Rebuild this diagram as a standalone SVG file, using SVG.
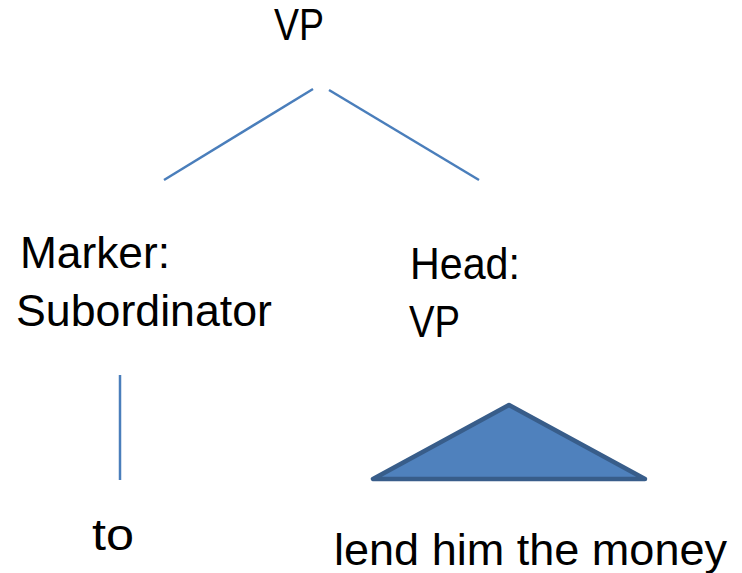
<svg xmlns="http://www.w3.org/2000/svg" width="742" height="573" viewBox="0 0 742 573">
<style>
text{font-family:"Liberation Sans",Arial,sans-serif;font-size:44px;fill:#000}
.ln{stroke:#4a7ebb;stroke-width:2.5;fill:none}
.tri{fill:#4f81bd;stroke:#385d8a;stroke-width:4.5;stroke-linejoin:round}
</style>
<rect width="742" height="573" fill="#fff"/>
<g id="node-vp-top"><text x="274" y="40" textLength="50" lengthAdjust="spacingAndGlyphs">VP</text></g>
<g id="node-marker"><text x="20" y="268" textLength="150" lengthAdjust="spacingAndGlyphs">Marker:</text><text x="16" y="326" textLength="256" lengthAdjust="spacingAndGlyphs">Subordinator</text></g>
<g id="node-head"><text x="410" y="279" textLength="110" lengthAdjust="spacingAndGlyphs">Head:</text><text x="409" y="337" textLength="51" lengthAdjust="spacingAndGlyphs">VP</text></g>
<g id="node-to"><text x="92" y="550" textLength="42" lengthAdjust="spacingAndGlyphs">to</text></g>
<g id="node-lend"><polygon class="tri" points="509,405 373,479 645,479"/><text x="334" y="565" textLength="393" lengthAdjust="spacingAndGlyphs">lend him the money</text></g>
<g id="connectors">
<line class="ln" x1="313" y1="89" x2="164" y2="180"/>
<line class="ln" x1="329" y1="90" x2="479" y2="180"/>
<line class="ln" x1="120" y1="375" x2="120" y2="480"/>
</g>
</svg>
